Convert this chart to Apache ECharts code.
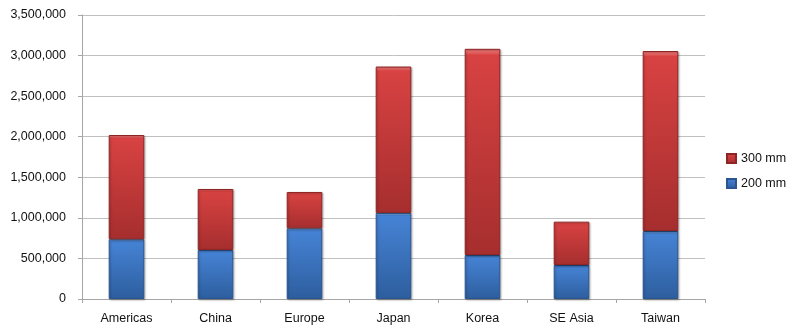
<!DOCTYPE html>
<html><head><meta charset="utf-8">
<script src="https://cdn.jsdelivr.net/npm/echarts@6/dist/echarts.min.js"></script>
<style>html,body{margin:0;padding:0;background:#fff}#c{width:800px;height:335px}</style>
</head><body><div id="c"></div>
<script>
var categories = ['Americas','China','Europe','Japan','Korea','SE Asia','Taiwan'];
var mm200 = [736000, 604000, 871000, 1061000, 542000, 419000, 838000];
var mm300 = [1285000, 752000, 448000, 1804000, 2541000, 534000, 2218000];
var yTicks = {min:0, max:3500000, interval:500000};

function grad(top, mid, bot){
  return new echarts.graphic.LinearGradient(0,0,0,1,[
    {offset:0, color:top},{offset:0.015, color:top},{offset:0.03, color:mid},{offset:1, color:bot}
  ]);
}
var chart = echarts.init(document.getElementById('c'));
chart.setOption({
  animation:false,
  textStyle:{fontFamily:'Liberation Sans, Arial, sans-serif'},
  grid:{left:82,right:95,top:15,bottom:36,containLabel:false},
  legend:{
    orient:'vertical', left:721, top:147, itemGap:12,
    itemWidth:9, itemHeight:9, icon:'rect',
    data:['300 mm','200 mm'],
    textStyle:{fontSize:12.5,color:'#111'}
  },
  xAxis:{
    type:'category', data:categories,
    axisLine:{lineStyle:{color:'#a6a6a6'}},
    axisTick:{show:true,length:4,lineStyle:{color:'#a6a6a6'}},
    axisLabel:{fontSize:12.5,color:'#111',margin:13}
  },
  yAxis:{
    type:'value', min:yTicks.min, max:yTicks.max, interval:yTicks.interval,
    axisLine:{show:true,lineStyle:{color:'#a6a6a6'}},
    axisTick:{show:true,length:4,lineStyle:{color:'#a6a6a6'}},
    splitLine:{lineStyle:{color:'#c0c0c0'}},
    axisLabel:{fontSize:12.5,color:'#111',margin:16,
      formatter:function(v){return v.toLocaleString('en-US');}}
  },
  series:[
    {name:'200 mm', type:'bar', stack:'t', data:mm200, barWidth:'40%',
     itemStyle:{color:grad('#79aef0','#4683d5','#2d5e9e'),borderColor:'#2a5590',borderWidth:1,
       shadowColor:'rgba(0,0,0,0.25)',shadowBlur:2,shadowOffsetX:1,shadowOffsetY:1}},
    {name:'300 mm', type:'bar', stack:'t', data:mm300, barWidth:'40%',
     itemStyle:{color:grad('#e66a6a','#d84242','#a62e2e'),borderColor:'#8e2525',borderWidth:1,
       shadowColor:'rgba(0,0,0,0.25)',shadowBlur:2,shadowOffsetX:1,shadowOffsetY:1}}
  ]
});
</script></body></html>
